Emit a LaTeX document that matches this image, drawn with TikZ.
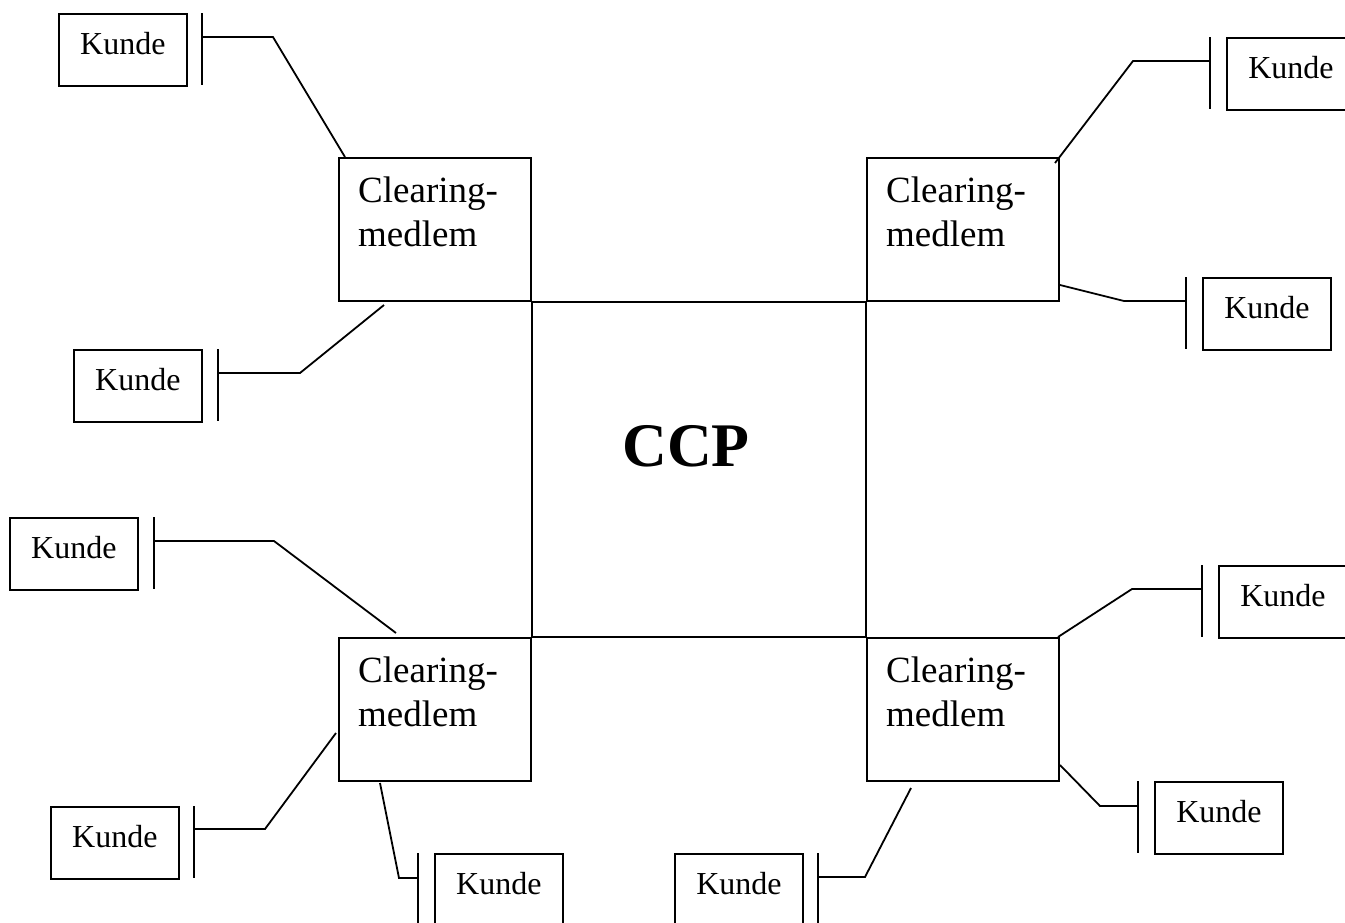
\documentclass[tikz,border=0pt]{standalone}
\usepackage{fontspec}
\setmainfont{Liberation Serif}
\usetikzlibrary{calc}
\begin{document}
\begin{tikzpicture}[x=1pt,y=-1pt,
  ln/.style={line width=1.8pt,line cap=rect},
  kunde/.style={draw,line width=1.8pt,inner sep=0pt,minimum width=128pt,minimum height=72pt,
    text height=41pt,text depth=31pt,anchor=north west,font=\fontsize{32}{38}\selectfont},
  cmbox/.style={draw,line width=1.8pt,inner sep=0pt,minimum width=192pt,minimum height=143pt,anchor=north west},
  cmtext/.style={inner sep=0pt,anchor=north west,align=left,font=\fontsize{37}{43.5}\selectfont},
  bar/.style={line width=1.8pt},
  conn/.style={line width=1.8pt,line join=miter}]
\useasboundingbox (0,0) rectangle (1345,922);

% Clearing members
\node[cmbox] (cm1) at (338,157) {};
\node[cmbox] (cm2) at (866,157) {};
\node[cmbox] (cm3) at (338,637) {};
\node[cmbox] (cm4) at (866,637) {};
\node[cmtext] (t1) at ($(cm1.north west)+(20,20)$) {Clearing-\\medlem};
\node[cmtext] (t2) at ($(cm2.north west)+(20,20)$) {Clearing-\\medlem};
\node[cmtext] (t3) at ($(cm3.north west)+(20,20)$) {Clearing-\\medlem};
\node[cmtext] (t4) at ($(cm4.north west)+(20,20)$) {Clearing-\\medlem};

% CCP square
\draw[ln] (cm1.south east) rectangle (cm4.north west);
\node[inner sep=0pt,anchor=base,font=\bfseries\fontsize{62}{70}\selectfont] (ccp) at (686,466) {CCP};

% Customers
\node[kunde] (k1) at (58,13) {Kunde};
\node[kunde] (k2) at (1226,37) {Kunde};
\node[kunde] (k3) at (1202,277) {Kunde};
\node[kunde] (k4) at (73,349) {Kunde};
\node[kunde] (k5) at (9,517) {Kunde};
\node[kunde] (k6) at (50,806) {Kunde};
\node[kunde] (k7) at (434,853) {Kunde};
\node[kunde] (k8) at (674,853) {Kunde};
\node[kunde] (k9) at (1154,781) {Kunde};
\node[kunde] (k10) at (1218,565) {Kunde};

% bars
\draw[bar] (202,13) coordinate (b1t) -- (202,85) coordinate (b1b);
\draw[bar] (1210,37) coordinate (b2t) -- (1210,109) coordinate (b2b);
\draw[bar] (1186,277) coordinate (b3t) -- (1186,349) coordinate (b3b);
\draw[bar] (218,349) coordinate (b4t) -- (218,421) coordinate (b4b);
\draw[bar] (154,517) coordinate (b5t) -- (154,589) coordinate (b5b);
\draw[bar] (194,806) coordinate (b6t) -- (194,878) coordinate (b6b);
\draw[bar] (418,853) coordinate (b7t) -- (418,925) coordinate (b7b);
\draw[bar] (818,853) coordinate (b8t) -- (818,925) coordinate (b8b);
\draw[bar] (1138,781) coordinate (b9t) -- (1138,853) coordinate (b9b);
\draw[bar] (1202,565) coordinate (b10t) -- (1202,637) coordinate (b10b);

% connection points
\coordinate (c1) at (202,37);  \coordinate (e1) at (345,157);
\coordinate (c2) at (1210,61); \coordinate (e2) at (1055,163);
\coordinate (c3) at (1186,301);\coordinate (e3) at (1060,285);
\coordinate (c4) at (218,373); \coordinate (e4) at (384,305);
\coordinate (c5) at (154,541); \coordinate (e5) at (396,633);
\coordinate (c6) at (194,829); \coordinate (e6) at (336,733);
\coordinate (c7) at (418,878); \coordinate (e7) at (380,783);
\coordinate (c8) at (818,877); \coordinate (e8) at (911,788);
\coordinate (c9) at (1138,806);\coordinate (e9) at (1060,765);
\coordinate (c10) at (1202,589);\coordinate (e10) at (1058,637);

% connectors
\draw[conn] (c1) -- (273,37) -- (e1);
\draw[conn] (c2) -- (1133,61) -- (e2);
\draw[conn] (c3) -- (1124,301) -- (e3);
\draw[conn] (c4) -- (300,373) -- (e4);
\draw[conn] (c5) -- (274,541) -- (e5);
\draw[conn] (c6) -- (265,829) -- (e6);
\draw[conn] (c7) -- (399,878) -- (e7);
\draw[conn] (c8) -- (865,877) -- (e8);
\draw[conn] (c9) -- (1100,806) -- (e9);
\draw[conn] (c10) -- (1132,589) -- (e10);
\end{tikzpicture}
\end{document}
